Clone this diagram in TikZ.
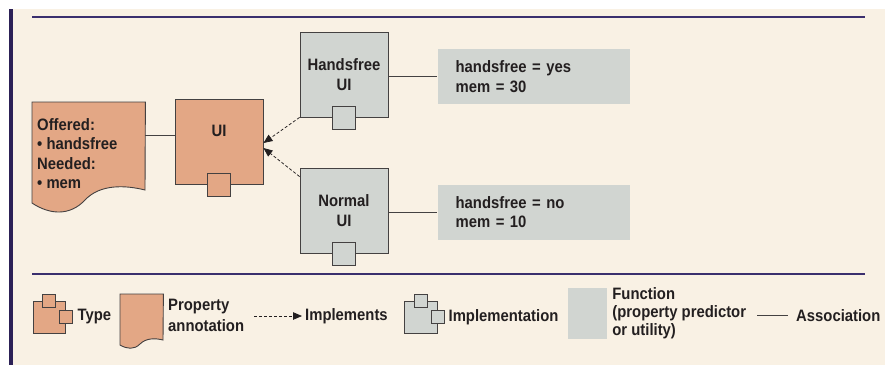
\documentclass[tikz,border=0pt]{standalone}
\usepackage{fontspec}
\setmainfont{Liberation Sans}[FakeStretch=0.9]
\usepackage{tikz}
\usetikzlibrary{positioning,arrows.meta}
\usepackage{xcolor}
\definecolor{cream}{HTML}{F9F1E4}
\definecolor{salmon}{HTML}{E3A785}
\definecolor{ashgray}{HTML}{D1D5D1}
\definecolor{ink}{HTML}{231F20}
\definecolor{rulecolor}{HTML}{3B2F6E}
\definecolor{navybar}{HTML}{2C2156}
\tikzset{
  typebox/.style={draw=ink!85,fill=salmon,line width=0.9pt,minimum width=88pt,minimum height=85pt,align=center},
  implbox/.style={typebox,fill=ashgray},
  portbox/.style={draw=ink!85,line width=0.9pt,minimum size=23pt,inner sep=0pt},
  funcbox/.style={fill=ashgray,text width=156pt,inner xsep=18pt,minimum height=55pt,align=left},
  assocline/.style={draw=ink!85,line width=1pt},
  implarrow/.style={draw=ink,line width=0.75pt,dash pattern=on 3pt off 2pt,-{Triangle[length=9pt,width=7.5pt]}},
  legendtext/.style={inner sep=0pt,anchor=west,align=left},
  annotpath/.style={fill=salmon,draw=ink!85,line width=0.9pt}
}

\begin{document}
\begin{tikzpicture}[x=1pt,y=-1pt,font=\fontsize{16.5}{19.5}\selectfont\bfseries,text=ink]
  \useasboundingbox (0,0) rectangle (885,365);
  \fill[cream] (13,9) rectangle (885,365);
  \fill[navybar] (9,9) rectangle (13,365);
  \draw[rulecolor,line width=2.5pt] (32,17) -- (865,17);
  \draw[rulecolor,line width=2.5pt] (32,274) -- (865,274);

  \node[minimum width=113pt,minimum height=66pt,inner sep=0pt,anchor=north west] (offered) at (32,102) {};
  \filldraw[annotpath] (offered.north west) -- (offered.north east) -- (145,190)
    .. controls (125,185) and (100,184) .. (85,200)
    .. controls (70,216) and (50,215) .. (32,203) -- cycle;
  \node[anchor=north west,align=left,inner sep=0pt] (offered text) at (37,118)
    {Offered:\\\textbullet\ handsfree\\Needed:\\\textbullet\ mem};

  \node[typebox,text depth=21pt] (ui) at (219,141.5) {UI};
  \node[portbox,fill=salmon] (ui port) at (ui.south) {};
  \node[implbox] (handsfree ui) at (344,74.5) {Handsfree\\UI};
  \node[portbox,fill=ashgray] (handsfree port) at (handsfree ui.south) {};
  \node[implbox] (normal ui) at (344,210.5) {Normal\\UI};
  \node[portbox,fill=ashgray] (normal port) at (normal ui.south) {};

  \node[funcbox,right=49pt of handsfree ui,yshift=-2pt] (handsfree func) {handsfree = yes\\mem = 30};
  \node[funcbox,right=49pt of normal ui,yshift=-1.5pt] (normal func) {handsfree = no\\mem = 10};

  \draw[assocline] (offered.east) -- (offered.east -| ui.west);
  \draw[assocline] (handsfree func.west -| handsfree ui.east) -- (handsfree func.west);
  \draw[assocline] (normal func.west -| normal ui.east) -- (normal func.west);
  \draw[implarrow] (handsfree ui.south west) -- ([yshift=-1.5pt]ui.east);
  \draw[implarrow] ([yshift=-9pt]normal ui.north west) -- ([yshift=-6.5pt]ui.east);

  \node[typebox,minimum width=32pt,minimum height=32pt] (type icon) at (49,317) {};
  \node[portbox,fill=salmon,minimum size=13pt] (type top) at (type icon.north) {};
  \node[portbox,fill=salmon,minimum size=13pt] (type side) at (type icon.east) {};
  \node[legendtext,right=12pt of type icon] (type label) {Type};

  \node[minimum width=43pt,minimum height=46pt,inner sep=0pt,anchor=north west] (annot icon) at (120,294) {};
  \filldraw[annotpath] (annot icon.north west) -- (annot icon.north east) -- (163,340)
    .. controls (155,338) and (146,338) .. (140,344)
    .. controls (134,350) and (127,349) .. (120,345) -- cycle;
  \node[legendtext,font=\fontsize{16.5}{21}\selectfont\bfseries] (annot label) at (168,315.5) {Property\\annotation};

  \coordinate (implements tail) at (254,316);
  \node[legendtext] (implements label) at (305,316) {Implements};
  \draw[implarrow] (implements tail) -- ([xshift=-3pt]implements label.west);

  \node[implbox,minimum width=33pt,minimum height=32pt] (impl icon) at (420.5,317) {};
  \node[portbox,fill=ashgray,minimum size=13pt] (impl top) at (impl icon.north) {};
  \node[portbox,fill=ashgray,minimum size=13pt] (impl side) at (impl icon.east) {};
  \node[legendtext,right=11pt of impl icon] (impl label) {Implementation};

  \node[fill=ashgray,minimum width=39pt,minimum height=51pt,inner sep=0pt] (func icon) at (587.5,313.5) {};
  \node[legendtext,right=5pt of func icon,font=\fontsize{16.5}{18}\selectfont\bfseries] (func label)
    {Function\\(property predictor\\or utility)};

  \coordinate (assoc start) at (757,315);
  \coordinate (assoc end) at (788,315);
  \draw[assocline] (assoc start) -- (assoc end);
  \node[legendtext] (assoc label) at (796,316) {Association};
\end{tikzpicture}
\end{document}
